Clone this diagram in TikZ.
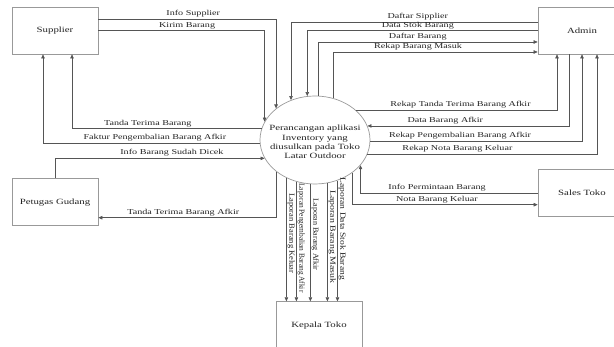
\documentclass[tikz,border=0pt]{standalone}
\usepackage{fontspec}
\setmainfont{Liberation Serif}[FakeStretch=1.35]
\usepackage{tikz}
\usetikzlibrary{positioning,arrows.meta,shapes.geometric}
\definecolor{cgaris}{HTML}{555555}
\definecolor{ctepi}{HTML}{999999}
\definecolor{cteks}{HTML}{222222}
\newcommand{\lapor}[2]{\resizebox{#1}{5.5pt}{#2}}
\tikzset{
  entitas/.style={rectangle, draw=ctepi, line width=0.7pt, fill=white,
    minimum width=86pt, minimum height=47pt, inner sep=0pt,
    font=\fontsize{8}{9.6}\selectfont, text=cteks},
  entitasl/.style={entitas, minimum width=88pt},
  proses/.style={ellipse, draw=ctepi, line width=0.7pt,
    minimum width=110pt, minimum height=88pt, inner sep=0pt},
  prosesteks/.style={align=center, font=\fontsize{8}{9.4}\selectfont, text=cteks},
  alir/.style={-{Triangle[length=4pt,width=3.5pt]}, line width=0.6pt, draw=cgaris},
  etq/.style={font=\fontsize{7.5}{9}\selectfont, text=cteks, inner sep=1.5pt, above},
  etqv/.style={rotate=-90, anchor=south, inner sep=1pt, text=cteks},
}
\begin{document}
\begin{tikzpicture}[x=1pt,y=-1pt]
  \useasboundingbox (0,0) rectangle (614,347);
  \node[entitas] (sup) at (55,30.5) {Supplier};
  \node[entitasl] (adm) at (582,30.5) {Admin};
  \node[proses] (e) at (315,140) {};
  \node[prosesteks, yshift=-2pt] (et) at (e) {Perancangan aplikasi\\Inventory yang\\diusulkan pada Toko\\Latar Outdoor};
  \node[entitas, below=124pt of sup] (pg) {Petugas Gudang};
  \node[entitasl, below=115pt of adm] (sal) {Sales Toko};
  \node[entitas, below=117pt of e, xshift=4pt] (kt) {Kepala Toko};

  \draw[alir] ([yshift=11.5pt]sup.east) -| (e.141.5) node[etq, pos=.267] {Info Supplier};
  \draw[alir] (sup.east) -| (e.160) node[etq, pos=.267] {Kirim Barang};
  \draw[alir] (e.168.3) -| ([xshift=17pt]sup.south) node[etq, pos=.30] {Tanda Terima Barang};
  \draw[alir] (e.-177.9) -| ([xshift=-12pt]sup.south) node[etq, pos=.242] {Faktur Pengembalian Barang Afkir};
  \draw[alir] (pg.north) |- (e.-160.3) node[etq, pos=.779] {Info Barang Sudah Dicek};
  \draw[alir] (e.-140.1) |- ([yshift=-15.5pt]pg.east) node[etq, pos=.762] {Tanda Terima Barang Afkir};

  \draw[alir] ([yshift=8.5pt]adm.west) -| (e.121.2) node[etq, pos=.243] {Daftar Sipplier};
  \draw[alir] (adm.west) -| (e.100.4) node[etq, pos=.26] {Data Stok Barang};
  \draw[alir] (e.86.1) |- ([yshift=-11.5pt]adm.west) node[etq, pos=.727] {Daftar Barang};
  \draw[alir] (e.66.6) |- ([yshift=-21.5pt]adm.west) node[etq, pos=.707] {Rekap Barang Masuk};
  \draw[alir] (e.36.7) -| ([xshift=-25pt]adm.south) node[etq, pos=.26] {Rekap Tanda Terima Barang Afkir};
  \draw[alir] ([xshift=-13pt]adm.south) |- (e.15) node[etq, pos=.807] {Data Barang Afkir};
  \draw[alir] (e.-1) -| (adm.south) node[etq, pos=.212] {Rekap Pengembalian Barang Afkir};
  \draw[alir] (e.-15) -| ([xshift=15pt]adm.south) node[etq, pos=.196] {Rekap Nota Barang Keluar};

  \draw[alir] (sal.west) -| (e.-29.3) node[etq, pos=.284] {Info Permintaan Barang};
  \draw[alir] (e.-41.4) |- ([yshift=-11.5pt]sal.west) node[etq, pos=.728] {Nota Barang Keluar};

  \draw[alir] (e.-127.8) -- (e.-127.8 |- kt.north) node[etqv, pos=.45] {\lapor{80pt}{Laporan Barang Keluar}};
  \draw[alir] (e.-114.7) -- (e.-114.7 |- kt.north) node[etqv, pos=.47] {\lapor{109pt}{Laporan Pengembalian Barang Afkir}};
  \draw[alir] (e.-96.5) -- (e.-96.5 |- kt.north) node[etqv, pos=.43] {\lapor{72pt}{Laporan Barang Afkir}};
  \draw[alir] (e.-74.4) -- (e.-74.4 |- kt.north) node[etqv, pos=.454] {\lapor{93pt}{Laporan Barang Masuk}};
  \draw[alir] (e.-61.4) -- (e.-61.4 |- kt.north) node[etqv, pos=.40] {\lapor{102pt}{Laporan Data Stok Barang}};
\end{tikzpicture}
\end{document}
